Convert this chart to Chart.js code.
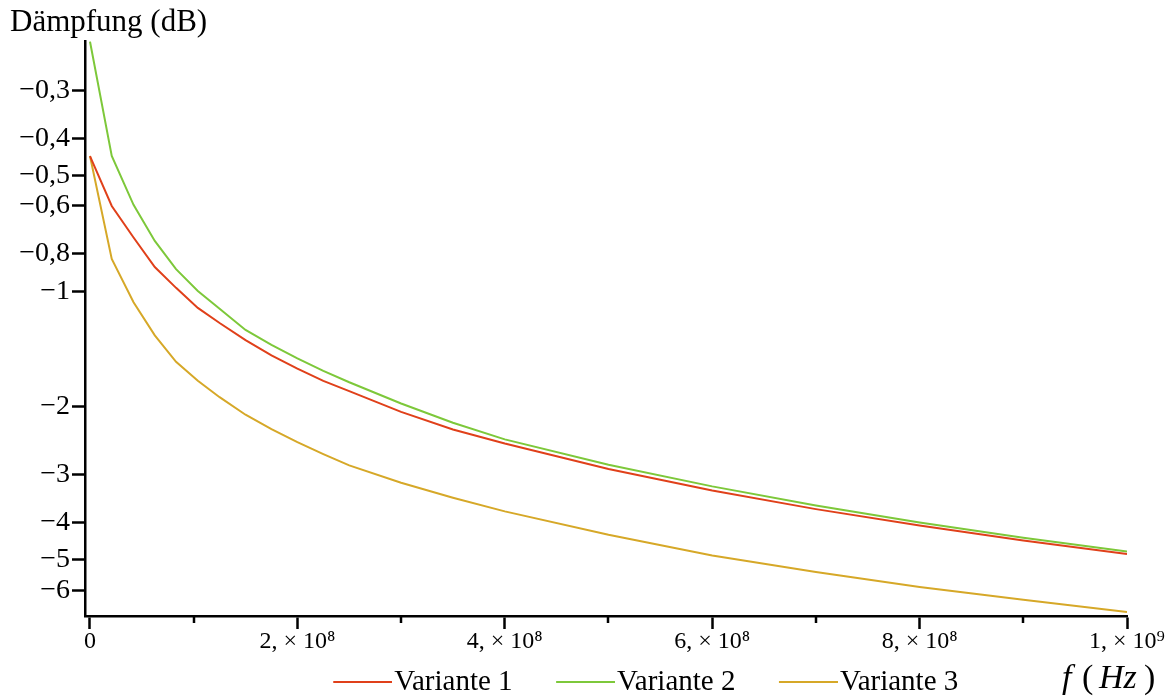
<!DOCTYPE html>
<html lang="de">
<head>
<meta charset="utf-8">
<title>Dämpfung</title>
<script src="https://cdn.jsdelivr.net/npm/chart.js@4.4.1/dist/chart.umd.min.js"></script>
<style>
  html, body { margin: 0; padding: 0; background: #fff; }
  #wrap { width: 1171px; height: 697px; }
</style>
</head>
<body>
<div id="wrap"><canvas id="chart" width="1171" height="697"></canvas></div>
<script>
// frequency samples (Hz) and attenuation in dB for each variant
const freqHz = [0, 21e6, 42e6, 62.5e6, 83e6, 104e6, 125e6, 150e6, 175e6, 200e6, 225e6, 250e6, 300e6,
  350e6, 400e6, 500e6, 600e6, 700e6, 800e6, 900e6, 1000e6];
const variante1 = [-0.445, -0.60, -0.725, -0.865, -0.98, -1.105, -1.21, -1.34, -1.469, -1.59, -1.712, -1.82, -2.06,
  -2.29, -2.49, -2.90, -3.30, -3.69, -4.07, -4.45, -4.83];
const variante2 = [-0.224, -0.4445, -0.596, -0.740, -0.876, -0.999, -1.111, -1.261, -1.379, -1.495, -1.611, -1.725, -1.96,
  -2.20, -2.43, -2.83, -3.22, -3.61, -4.00, -4.38, -4.76];
const variante3 = [-0.445, -0.824, -1.068, -1.303, -1.526, -1.710, -1.887, -2.096, -2.285, -2.47, -2.653, -2.84, -3.15,
  -3.445, -3.74, -4.30, -4.87, -5.38, -5.88, -6.35, -6.83];

const seriesNames = ["Variante 1", "Variante 2", "Variante 3"];
const seriesColors = ["#e0401a", "#7dc83a", "#d6a828"];

const xTickValues = [0, 2e8, 4e8, 6e8, 8e8, 1e9];
const xTickLabels = ["0", "2, × 10⁸", "4, × 10⁸", "6, × 10⁸", "8, × 10⁸", "1, × 10⁹"];
const xMinorTicks = [1e8, 3e8, 5e8, 7e8, 9e8];
const yTickValues = [-0.3, -0.4, -0.5, -0.6, -0.8, -1, -2, -3, -4, -5, -6];
const yTickLabels = ["−0,3", "−0,4", "−0,5", "−0,6", "−0,8", "−1", "−2", "−3", "−4", "−5", "−6"];

const serif = '"Liberation Serif", "Times New Roman", serif';
Chart.defaults.font.family = serif;
Chart.defaults.color = "#000";

// y axis is logarithmic in the magnitude of the (negative) dB values
const toPoints = (vals) => freqHz.map((f, i) => ({ x: f, y: -vals[i] }));

// legend sample: a short line drawn in the right part of the box, just before the text
function legendLine(color) {
  const c = document.createElement("canvas");
  c.width = 107;
  c.height = 4;
  const g = c.getContext("2d");
  g.strokeStyle = color;
  g.lineWidth = 2;
  g.beginPath();
  g.moveTo(48, 2);
  g.lineTo(107, 2);
  g.stroke();
  return c;
}

const extras = {
  id: "extras",
  afterLayout(chart) {
    // the legend sits a bit right of the plot centre in the original
    chart.legend.left += 22;
    chart.legend.right += 22;
  },
  afterDraw(chart) {
    const { ctx, chartArea, scales } = chart;
    ctx.save();
    ctx.strokeStyle = "#000";
    ctx.lineWidth = 2.5;
    xMinorTicks.forEach((v) => {
      const px = Math.round(scales.x.getPixelForValue(v));
      ctx.beginPath();
      ctx.moveTo(px, chartArea.bottom);
      ctx.lineTo(px, chartArea.bottom + 7);
      ctx.stroke();
    });

    // axis label f(Hz), italic f and Hz
    ctx.fillStyle = "#000";
    ctx.textBaseline = "alphabetic";
    ctx.textAlign = "left";
    ctx.font = "italic 34px " + serif;
    ctx.fillText("f", 1062, 688);
    ctx.font = "34px " + serif;
    ctx.fillText("(", 1082, 688);
    ctx.font = "italic 34px " + serif;
    ctx.fillText("Hz", 1099, 688);
    ctx.font = "34px " + serif;
    ctx.fillText(")", 1144, 688);
    ctx.restore();
  }
};

const datasets = [variante1, variante2, variante3].map((vals, i) => ({
  label: seriesNames[i],
  data: toPoints(vals),
  borderColor: seriesColors[i],
  backgroundColor: seriesColors[i],
  borderWidth: 2,
  pointRadius: 0,
  pointHoverRadius: 0,
  pointStyle: legendLine(seriesColors[i]),
  fill: false,
  tension: 0
}));

new Chart(document.getElementById("chart"), {
  type: "line",
  data: { datasets },
  options: {
    responsive: false,
    animation: false,
    events: [],
    layout: { autoPadding: false, padding: { left: 10, right: 44, top: 0, bottom: 0 } },
    scales: {
      x: {
        type: "linear",
        min: -4.8e6,
        max: 1e9,
        afterFit: (scale) => { scale.height = 43.5; },
        afterBuildTicks: (scale) => { scale.ticks = xTickValues.map((v) => ({ value: v })); },
        ticks: {
          autoSkip: false,
          maxRotation: 0,
          minRotation: 0,
          padding: 1,
          color: "#000",
          font: { family: serif, size: 24, lineHeight: 1 },
          callback: (value, index) => xTickLabels[index]
        },
        grid: { drawOnChartArea: false, tickLength: 13, tickWidth: 2.5, tickColor: "#000" },
        border: { display: true, color: "#000", width: 2.5 }
      },
      y: {
        type: "logarithmic",
        reverse: true,
        min: 0.2236,
        max: 7.0,
        afterFit: (scale) => { scale.width = 75; },
        afterBuildTicks: (scale) => { scale.ticks = yTickValues.map((v) => ({ value: -v })); },
        ticks: {
          autoSkip: false,
          padding: 2,
          color: "#000",
          font: { family: serif, size: 28 },
          callback: (value, index) => yTickLabels[index]
        },
        grid: { drawOnChartArea: false, tickLength: 13, tickWidth: 2.5, tickColor: "#000" },
        border: { display: true, color: "#000", width: 2.5 }
      }
    },
    plugins: {
      title: {
        display: true,
        text: "Dämpfung (dB)",
        align: "start",
        color: "#000",
        font: { family: serif, size: 31, weight: "normal", lineHeight: 1.2 },
        padding: { top: 4, bottom: 0 }
      },
      legend: {
        display: true,
        position: "bottom",
        fullSize: false,
        maxHeight: 37.5,
        labels: {
          usePointStyle: true,
          pointStyleWidth: 82,
          padding: 8,
          color: "#000",
          font: { family: serif, size: 29 }
        }
      },
      tooltip: { enabled: false }
    }
  },
  plugins: [extras]
});
</script>
</body>
</html>
